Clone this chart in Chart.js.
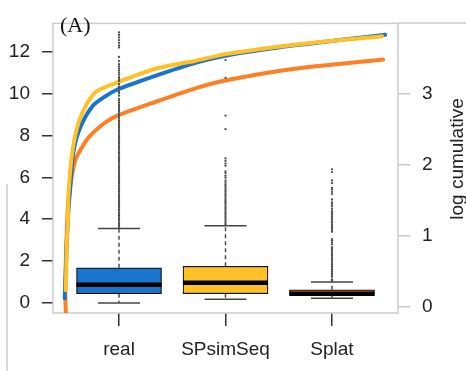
<!DOCTYPE html>
<html>
<head>
<meta charset="utf-8">
<script src="https://cdn.jsdelivr.net/npm/chart.js@4/dist/chart.umd.min.js"></script>
<style>
  body { margin: 0; background: #fff; }
  canvas { display: block; }
</style>
</head>
<body>
<canvas id="box-chart" width="466" height="371"></canvas>
<script>
// categories and box statistics (left axis)
const categories = ['real', 'SPsimSeq', 'Splat'];
const boxColors = ['#1874CD', '#FFC125', '#FF7F24'];
const q1 = [0.44, 0.44, 0.36];
const q3 = [1.68, 1.75, 0.63];
const medians = [0.87, 0.96, 0.44];
const whiskLo = [0.0, 0.18, 0.22];
const whiskHi = [3.55, 3.69, 1.0];

// outliers
const realOut = [3.61, 3.69, 3.77, 3.84, 3.93, 4.0, 4.09, 4.17, 4.24, 4.33, 4.41, 4.48, 4.57, 4.66, 4.73, 4.82, 4.9, 4.97,
    5.06, 5.14, 5.22, 5.31, 5.39, 5.46, 5.55, 5.63, 5.72, 5.8, 5.87, 5.96, 6.05, 6.13, 6.2, 6.29, 6.38, 6.46, 6.53, 6.62,
    6.71, 6.79, 6.88, 6.95, 7.04, 7.13, 7.2, 7.29, 7.38, 7.45, 7.54, 7.63, 7.7, 7.79, 7.88, 7.96, 8.04, 8.13, 8.21, 8.3,
    8.38, 8.46, 8.55, 8.64, 8.71, 8.8, 8.89, 8.97, 9.05, 9.14, 9.22, 9.31, 9.4, 9.48, 9.57, 9.66, 9.75, 9.9, 10.02, 10.1,
    10.25, 10.33, 10.45, 10.6, 10.7, 10.78, 10.9, 11.0, 11.1, 11.2, 11.3, 11.4, 11.55, 11.75, 12.2, 12.3, 12.42, 12.55,
    12.68, 12.8, 12.92];
const spOut = [3.74, 3.82, 3.9, 3.99, 4.07, 4.15, 4.24, 4.32, 4.4, 4.49, 4.57, 4.66, 4.74, 4.82, 4.91, 4.99, 5.08, 5.16,
    5.24, 5.33, 5.41, 5.5, 5.58, 5.66, 5.75, 5.84, 5.98, 6.08, 6.2, 6.28, 6.55, 6.65, 6.78, 6.9, 8.3, 8.95, 10.75, 11.6];
const splatOut = [1.06, 1.12, 1.25, 1.33, 1.41, 1.49, 1.58, 1.66, 1.74, 1.83, 1.91, 2.0, 2.08, 2.16, 2.25, 2.33, 2.41,
    2.5, 2.58, 2.66, 2.8, 2.88, 2.97, 3.05, 3.4, 3.48, 3.57, 3.65, 3.73, 3.82, 3.9, 3.99, 4.07, 4.15, 4.24, 4.32, 4.4,
    4.5, 4.62, 4.72, 4.8, 4.94, 5.2, 5.3, 5.42, 5.5, 5.72, 5.85, 6.25, 6.38];

// log cumulative curves (right axis)
const realCurveX = [0.49, 0.50, 0.51, 0.53, 0.54, 0.57, 0.63, 0.75, 0.87, 0.99, 1.34, 1.71, 2.02, 2.65, 3.50];
const realCurveY = [0.12, 0.49, 0.95, 1.48, 1.64, 2.17, 2.51, 2.83, 2.97, 3.07, 3.26, 3.44, 3.55, 3.69, 3.84];
const spCurveX = [0.50, 0.505, 0.51, 0.52, 0.525, 0.56, 0.62, 0.70, 0.79, 0.99, 1.34, 1.71, 2.02, 2.65, 3.47];
const spCurveY = [0.23, 0.56, 0.89, 1.22, 1.59, 2.17, 2.60, 2.87, 3.04, 3.17, 3.36, 3.47, 3.57, 3.70, 3.82];
const splatCurveX = [0.50, 0.495, 0.50, 0.51, 0.52, 0.54, 0.59, 0.71, 0.87, 0.99, 1.34, 1.71, 2.02, 2.65, 3.48];
const splatCurveY = [-0.08, 0.23, 0.62, 1.08, 1.41, 1.68, 2.07, 2.38, 2.60, 2.70, 2.89, 3.08, 3.20, 3.36, 3.49];

const leftTicks = [0, 2, 4, 6, 8, 10, 12];
const rightTicks = [0, 1, 2, 3];

Chart.defaults.font.family = "'Liberation Sans', Arial, sans-serif";
Chart.defaults.color = '#222';

let ctx = document.getElementById('box-chart').getContext('2d');

// helpers to turn the arrays into points
let pos = categories.map((c, i) => i + 1);
let toPts = (xs, ys) => xs.map((x, i) => ({ x: x, y: ys[i] }));

let whiskerPts = [];
pos.forEach((p, i) => {
    whiskerPts.push({ x: p, y: q3[i] }, { x: p, y: whiskHi[i] }, { x: p, y: null });
    whiskerPts.push({ x: p, y: q1[i] }, { x: p, y: whiskLo[i] }, { x: p, y: null });
});
let capPts = [];
pos.forEach((p, i) => { capPts.push({ x: p, y: whiskLo[i] }, { x: p, y: whiskHi[i] }); });
let outPts = [];
[realOut, spOut, splatOut].forEach((arr, i) => arr.forEach(v => outPts.push({ x: pos[i], y: v })));

// small dots on the steep low end of the curves
let lowDots = c => ({ pointRadius: cx => (cx.raw && cx.raw.y < 1.5 ? 1.6 : 0), pointBorderWidth: 0, pointBackgroundColor: c });

// frame + texts
let framePlugin = {
    id: 'framePlugin',
    beforeDatasetsDraw(chart) {
        let a = chart.chartArea, c = chart.ctx;
        c.save();
        c.strokeStyle = '#cccccc';
        c.lineWidth = 1.5;
        c.strokeRect(a.left, a.top, a.right - a.left, a.bottom - a.top);
        c.beginPath();
        c.moveTo(a.right, a.top - 0.5);
        c.lineTo(466, a.top - 0.5);
        c.moveTo(7, 184);
        c.lineTo(7, 371);
        c.stroke();
        c.restore();
    },
    afterDraw(chart) {
        let c = chart.ctx;
        c.save();
        c.fillStyle = '#111';
        c.font = "22px 'Liberation Serif', 'Times New Roman', serif";
        c.textBaseline = 'alphabetic';
        c.fillText('(A)', 60, 32);
        c.font = "19px 'Liberation Sans', Arial, sans-serif";
        c.translate(458, 159);
        c.rotate(-Math.PI / 2);
        c.textAlign = 'center';
        c.textBaseline = 'middle';
        c.fillStyle = '#222';
        c.fillText('log cumulative', 0, 0);
        c.restore();
    }
};

let boxChart = new Chart(ctx, {
    type: 'bar',
    data: {
        datasets: [
            {
                type: 'scatter',
                data: outPts,
                pointRadius: 1.15,
                pointBorderWidth: 0,
                pointBackgroundColor: '#4d4d4d',
                order: 0
            },
            Object.assign({
                type: 'line',
                data: toPts(realCurveX, realCurveY),
                yAxisID: 'y2',
                borderColor: '#1874CD',
                borderWidth: 4,
                tension: 0.25,
                borderCapStyle: 'round',
                order: 3
            }, lowDots('#1874CD')),
            Object.assign({
                type: 'line',
                data: toPts(spCurveX, spCurveY),
                yAxisID: 'y2',
                borderColor: '#FFC125',
                borderWidth: 4,
                tension: 0.25,
                borderCapStyle: 'round',
                order: 2
            }, lowDots('#FFC125')),
            Object.assign({
                type: 'line',
                data: toPts(splatCurveX, splatCurveY),
                yAxisID: 'y2',
                borderColor: '#FF7F24',
                borderWidth: 4,
                tension: 0.25,
                borderCapStyle: 'round',
                order: 4
            }, lowDots('#FF7F24')),
            {
                type: 'scatter',
                data: pos.map((p, i) => ({ x: p, y: medians[i] })),
                pointStyle: 'line',
                pointRadius: 42.5,
                pointBorderWidth: 4.5,
                pointBorderColor: '#000',
                order: 5
            },
            {
                type: 'bar',
                data: pos.map((p, i) => ({ x: p, y: [q1[i], q3[i]] })),
                backgroundColor: boxColors,
                borderColor: '#111',
                borderWidth: 1.2,
                borderSkipped: false,
                barThickness: 85,
                order: 6
            },
            {
                type: 'scatter',
                data: capPts,
                pointStyle: 'line',
                pointRadius: 21,
                pointBorderWidth: 1.5,
                pointBorderColor: '#444',
                order: 7
            },
            {
                type: 'line',
                data: whiskerPts,
                borderColor: '#444',
                borderWidth: 1.4,
                borderDash: [4, 3],
                pointRadius: 0,
                spanGaps: false,
                order: 8
            }
        ]
    },
    options: {
        responsive: false,
        animation: false,
        events: [],
        layout: { autoPadding: false, padding: { top: 5, left: 0, right: 0, bottom: 0 } },
        plugins: {
            legend: { display: false },
            tooltip: { enabled: false }
        },
        scales: {
            x: {
                type: 'linear',
                offset: false,
                min: 0.38,
                max: 3.62,
                afterBuildTicks: s => { s.ticks = pos.map(v => ({ value: v })); },
                afterFit: s => { s.height = 58; },
                ticks: {
                    callback: (v, i) => categories[i],
                    font: { size: 19 },
                    padding: 12,
                    maxRotation: 0,
                    autoSkip: false
                },
                grid: { offset: false, drawOnChartArea: false, tickLength: 13, color: '#333', lineWidth: 1.5 },
                border: { display: false }
            },
            y: {
                position: 'left',
                min: -0.48,
                max: 13.35,
                afterBuildTicks: s => { s.ticks = leftTicks.map(v => ({ value: v })); },
                afterFit: s => { s.width = 53; },
                ticks: { font: { size: 19 }, padding: 12 },
                grid: { drawOnChartArea: false, tickLength: 11, color: '#333', lineWidth: 1.5 },
                border: { display: false }
            },
            y2: {
                position: 'right',
                min: -0.09,
                max: 4.0,
                afterBuildTicks: s => { s.ticks = rightTicks.map(v => ({ value: v })); },
                afterFit: s => { s.width = 68; },
                ticks: { font: { size: 19 }, padding: 12 },
                grid: { drawOnChartArea: false, tickLength: 12, color: '#c8c8c8', lineWidth: 1.5 },
                border: { display: false }
            }
        }
    },
    plugins: [framePlugin]
});
</script>
</body>
</html>
